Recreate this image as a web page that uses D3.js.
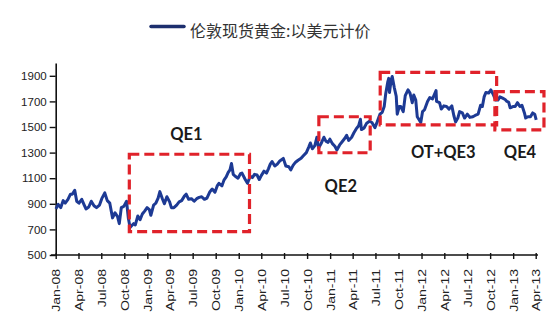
<!DOCTYPE html>
<html>
<head>
<meta charset="utf-8">
<script src="https://cdn.jsdelivr.net/npm/d3@7"></script>
<style>
  html, body { margin: 0; padding: 0; background: #fff; }
  svg { display: block; }
</style>
</head>
<body>
<div id="chart"></div>
<script>
// London spot gold, USD per ounce (sampled roughly every 10 days)
const dates = [
  "2008-01-02","2008-01-11","2008-01-21","2008-01-31","2008-02-08","2008-02-19","2008-02-29",
  "2008-03-07","2008-03-17","2008-03-25","2008-04-03","2008-04-14","2008-04-24","2008-05-01",
  "2008-05-12","2008-05-22","2008-06-02","2008-06-12","2008-06-24","2008-07-03","2008-07-15",
  "2008-07-25","2008-08-04","2008-08-15","2008-08-25","2008-09-04","2008-09-11","2008-09-19",
  "2008-09-29","2008-10-10","2008-10-17","2008-10-24","2008-10-31","2008-11-07","2008-11-14",
  "2008-11-24","2008-12-03","2008-12-12","2008-12-22","2008-12-31",
  "2009-01-09","2009-01-15","2009-01-26","2009-02-04","2009-02-13","2009-02-20","2009-03-02",
  "2009-03-10","2009-03-20","2009-03-31","2009-04-07","2009-04-17","2009-04-28","2009-05-08",
  "2009-05-18","2009-05-29","2009-06-05","2009-06-15","2009-06-26","2009-07-07","2009-07-17",
  "2009-07-27","2009-08-06","2009-08-17","2009-08-27","2009-09-08","2009-09-17","2009-09-28",
  "2009-10-07","2009-10-14","2009-10-26","2009-11-03","2009-11-12","2009-11-20","2009-11-27",
  "2009-12-03","2009-12-10","2009-12-18","2009-12-29",
  "2010-01-08","2010-01-14","2010-01-27","2010-02-05","2010-02-16","2010-02-25","2010-03-05",
  "2010-03-15","2010-03-24","2010-04-01","2010-04-12","2010-04-22","2010-04-30","2010-05-07",
  "2010-05-14","2010-05-25","2010-06-04","2010-06-14","2010-06-28","2010-07-08","2010-07-20",
  "2010-07-28","2010-08-06","2010-08-16","2010-08-26","2010-09-07","2010-09-16","2010-09-28",
  "2010-10-08","2010-10-14","2010-10-22","2010-11-01","2010-11-09","2010-11-16","2010-11-26",
  "2010-12-07","2010-12-15","2010-12-24","2010-12-31",
  "2011-01-10","2011-01-20","2011-01-28","2011-02-08","2011-02-18","2011-02-28","2011-03-08",
  "2011-03-16","2011-03-28","2011-04-06","2011-04-15","2011-04-25","2011-05-02","2011-05-06",
  "2011-05-16","2011-05-27","2011-06-07","2011-06-17","2011-06-29","2011-07-08","2011-07-19",
  "2011-07-28","2011-08-05","2011-08-11","2011-08-19","2011-08-23","2011-08-26","2011-09-02",
  "2011-09-06","2011-09-14","2011-09-22","2011-09-26","2011-10-04","2011-10-10","2011-10-20",
  "2011-10-28","2011-11-08","2011-11-16","2011-11-25","2011-12-01","2011-12-09","2011-12-15",
  "2011-12-29",
  "2012-01-05","2012-01-13","2012-01-25","2012-02-03","2012-02-14","2012-02-28","2012-03-01",
  "2012-03-13","2012-03-20","2012-03-30","2012-04-10","2012-04-20","2012-05-01","2012-05-09",
  "2012-05-16","2012-05-25","2012-06-01","2012-06-12","2012-06-21","2012-07-02","2012-07-12",
  "2012-07-24","2012-08-02","2012-08-14","2012-08-24","2012-08-31","2012-09-07","2012-09-14",
  "2012-09-25","2012-10-04","2012-10-12","2012-10-23","2012-11-01","2012-11-09","2012-11-20",
  "2012-11-30","2012-12-07","2012-12-14","2012-12-20","2012-12-31",
  "2013-01-09","2013-01-18","2013-01-28","2013-02-05","2013-02-15","2013-02-20","2013-03-01",
  "2013-03-11","2013-03-20","2013-03-28","2013-04-03"
];
const prices = [
  860, 895, 870, 925, 905, 935, 975,
  975, 1005, 920, 905, 935, 890, 860,
  875, 920, 885, 870, 890, 940, 985,
  925, 905, 790, 830, 800, 745, 870,
  880, 920, 790, 715, 730, 745, 735,
  805, 775, 820, 845, 870,
  855, 810, 890, 905, 945, 995, 940,
  900, 955, 915, 870, 870, 890, 915,
  925, 960, 975, 935, 940, 920, 940,
  950, 955, 935, 945, 995, 1015, 990,
  1040, 1060, 1040, 1085, 1110, 1145, 1165,
  1215, 1130, 1115, 1100,
  1135, 1140, 1090, 1060, 1115, 1105, 1130,
  1125, 1090, 1120, 1155, 1140, 1175, 1210,
  1230, 1195, 1210, 1235, 1255, 1195, 1190,
  1165, 1200, 1225, 1240, 1255, 1275, 1300,
  1345, 1375, 1330, 1355, 1420, 1335, 1370,
  1420, 1390, 1380, 1405,
  1370, 1350, 1320, 1360, 1385, 1410, 1435,
  1395, 1420, 1455, 1485, 1510, 1560, 1480,
  1490, 1530, 1545, 1535, 1495, 1540, 1600,
  1615, 1660, 1760, 1850, 1880, 1770, 1870,
  1895, 1810, 1740, 1600, 1660, 1660, 1620,
  1745, 1790, 1765, 1690, 1750, 1710, 1580,
  1535,
  1620, 1635, 1700, 1730, 1720, 1785, 1700,
  1690, 1640, 1665, 1660, 1640, 1665, 1590,
  1540, 1570, 1620, 1610, 1570, 1600, 1575,
  1580, 1590, 1600, 1670, 1660, 1735, 1770,
  1765, 1790, 1760, 1710, 1710, 1735, 1725,
  1715, 1700, 1695, 1650, 1660,
  1660, 1690, 1660, 1670, 1610, 1570, 1580,
  1580, 1610, 1600, 1555
];

// Quarterly tick labels
const tickLabels = [
  "Jan-08","Apr-08","Jul-08","Oct-08","Jan-09","Apr-09","Jul-09","Oct-09",
  "Jan-10","Apr-10","Jul-10","Oct-10","Jan-11","Apr-11","Jul-11","Oct-11",
  "Jan-12","Apr-12","Jul-12","Oct-12","Jan-13","Apr-13"
];
const yTicks = [500, 700, 900, 1100, 1300, 1500, 1700, 1900];

// Policy periods: name, start, end, low, high
const periodNames  = ["QE1", "QE2", "OT+QE3", "QE4"];
const periodStarts = ["2008-10-21", "2010-11-17", "2011-07-20", "2012-10-20"];
const periodEnds   = ["2010-02-13", "2011-06-10", "2012-10-27", "2013-05-04"];
const periodLows   = [682, 1299, 1516, 1477];
const periodHighs  = [1287, 1580, 1927, 1776];

const legendLabel = "伦敦现货黄金:以美元计价";

const W = 550, H = 331;
const parse = d3.timeParse("%Y-%m-%d");
const monthNames = {Jan: 0, Apr: 3, Jul: 6, Oct: 9};
const tickDates = tickLabels.map(s => new Date(2000 + +s.slice(4), monthNames[s.slice(0, 3)], 1));

const svg = d3.select("#chart").append("svg").attr("width", W).attr("height", H);

const x = d3.scaleTime()
  .domain([tickDates[0], tickDates[tickDates.length - 1]])
  .range([55.7, 535.7]);
const y = d3.scaleLinear().domain([500, 2000]).range([255, 63]);

const series = dates.map((d, i) => ({date: parse(d), value: prices[i]}));

// Y axis
const yAxis = svg.append("g")
  .attr("transform", "translate(55.7,0)")
  .call(d3.axisLeft(y).tickValues(yTicks).tickFormat(d3.format("d"))
    .tickSize(6).tickSizeOuter(0).tickPadding(3));
yAxis.select(".domain").attr("stroke", "#111").attr("stroke-width", 1.6);
yAxis.selectAll(".tick line").attr("stroke", "#111").attr("stroke-width", 1.4);
yAxis.selectAll(".tick text")
  .attr("font-family", "'Liberation Sans', Arial, sans-serif")
  .attr("font-size", 11.5).attr("fill", "#222");

// X axis
const xAxis = svg.append("g")
  .attr("transform", "translate(0,255)")
  .call(d3.axisBottom(x).tickValues(tickDates).tickSize(4).tickSizeOuter(0)
    .tickFormat((d, i) => tickLabels[i]));
xAxis.select(".domain").attr("stroke", "#111").attr("stroke-width", 1.6)
  .attr("d", "M51,0H538");
xAxis.selectAll(".tick line").attr("stroke", "#111").attr("stroke-width", 1.4).attr("y1", -2);
xAxis.selectAll(".tick text")
  .attr("font-family", "'Liberation Sans', Arial, sans-serif")
  .attr("font-size", 11.5).attr("fill", "#222")
  .attr("text-anchor", "end")
  .attr("dy", "0.35em")
  .attr("transform", "translate(0,14) rotate(-90) scale(1.22,1)")
  .attr("y", 0).attr("x", 0);

// Gold price line
svg.append("path")
  .datum(series)
  .attr("fill", "none")
  .attr("stroke", "#1d3a94")
  .attr("stroke-width", 3)
  .attr("stroke-linejoin", "round")
  .attr("d", d3.line().x(d => x(d.date)).y(d => y(d.value)));

// Dashed boxes for the policy periods
const periods = periodNames.map((n, i) => ({
  name: n, start: parse(periodStarts[i]), end: parse(periodEnds[i]),
  low: periodLows[i], high: periodHighs[i]
}));
svg.append("g").selectAll("rect").data(periods).join("rect")
  .attr("x", d => x(d.start))
  .attr("y", d => y(d.high))
  .attr("width", d => x(d.end) - x(d.start))
  .attr("height", d => y(d.low) - y(d.high))
  .attr("fill", "none")
  .attr("stroke", "#e0222a")
  .attr("stroke-width", 3.2)
  .attr("stroke-dasharray", "10,5");

// Period labels
const labelX = [186.4, 340.8, 443.3, 520];
const labelY = [140, 191.7, 157.7, 157.7];
svg.append("g").selectAll("text").data(periods).join("text")
  .attr("x", (d, i) => labelX[i])
  .attr("y", (d, i) => labelY[i])
  .attr("text-anchor", "middle")
  .attr("font-family", "Lato, 'Open Sans', sans-serif")
  .attr("font-weight", "bold")
  .attr("font-size", 16.5)
  .attr("fill", "#1a1a1a")
  .text(d => d.name);

// Legend
const legend = svg.append("g");
legend.append("line")
  .attr("x1", 151).attr("x2", 184).attr("y1", 26.5).attr("y2", 26.5)
  .attr("stroke", "#1d2f6e").attr("stroke-width", 3.5).attr("stroke-linecap", "round");
legend.append("text")
  .attr("x", 190).attr("y", 37)
  .attr("font-family", "'Noto Sans CJK SC', sans-serif")
  .attr("font-size", 16)
  .attr("fill", "#333")
  .text(legendLabel);
</script>
</body>
</html>
